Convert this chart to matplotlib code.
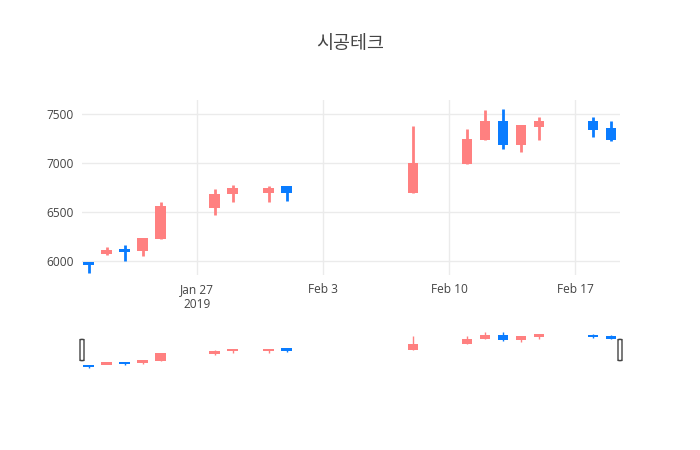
import numpy as np
import matplotlib
matplotlib.use('Agg')
import matplotlib.pyplot as plt
import matplotlib.dates as mdates
from matplotlib.patches import FancyBboxPatch

dates = ['2019-01-21', '2019-01-22', '2019-01-23', '2019-01-24', '2019-01-25',
         '2019-01-28', '2019-01-29', '2019-01-31', '2019-02-01', '2019-02-08',
         '2019-02-11', '2019-02-12', '2019-02-13', '2019-02-14', '2019-02-15',
         '2019-02-18', '2019-02-19']
opens = [5990, 6070, 6120, 6100, 6230, 6540, 6690, 6700, 6770, 6700,
         6990, 7240, 7430, 7190, 7370, 7430, 7355]
highs = [5990, 6150, 6170, 6240, 6600, 6740, 6780, 6770, 6770, 7375,
         7350, 7545, 7555, 7385, 7475, 7475, 7430]
lows = [5885, 6060, 6000, 6050, 6230, 6470, 6600, 6600, 6610, 6700,
        6990, 7240, 7145, 7110, 7240, 7265, 7225]
closes = [5960, 6110, 6100, 6240, 6560, 6690, 6750, 6750, 6700, 7000,
          7250, 7430, 7190, 7385, 7435, 7340, 7235]

tick_dates = ['2019-01-27', '2019-02-03', '2019-02-10', '2019-02-17']
tick_labels = ['Jan 27\n2019', 'Feb 3', 'Feb 10', 'Feb 17']

up_col = '#ff8080'
down_col = '#0a7cff'
txt = '#444444'

x = mdates.datestr2num(dates)
o = np.array(opens, float)
h = np.array(highs, float)
l = np.array(lows, float)
c = np.array(closes, float)
cols = [up_col if cc >= oo else down_col for oo, cc in zip(o, c)]

def candles(ax, wick_lw, min_h):
    ax.vlines(x, l, h, colors=cols, linewidth=wick_lw, zorder=2, clip_on=False)
    mid = (o + c) / 2
    hgt = np.maximum(np.abs(c - o), min_h)
    ax.bar(x, hgt, bottom=mid - hgt / 2, width=0.6, color=cols, linewidth=0,
           zorder=3, clip_on=False)

plt.rcParams['font.family'] = ['Open Sans', 'DejaVu Sans']
fig = plt.figure(figsize=(7, 4.5), dpi=100)

xlo = mdates.datestr2num('2019-01-20') + 0.62
xhi = mdates.datestr2num('2019-02-19') + 0.5

ax = fig.add_axes([82 / 700, 1 - 275 / 450, 538 / 700, 175 / 450])
candles(ax, 2, 28)
ax.set_xlim(xlo, xhi)
ax.set_ylim(5860, 7645)
ax.set_yticks([6000, 6500, 7000, 7500])
ax.set_xticks(mdates.datestr2num(tick_dates))
ax.set_xticklabels(tick_labels)
ax.grid(True, color='#ebebeb', linewidth=1)
ax.set_axisbelow(True)
for s in ax.spines.values():
    s.set_visible(False)
ax.tick_params(length=0, colors=txt, labelsize=8.6, pad=6)

fig.text(0.5, 1 - 44 / 450, '시공테크', ha='center', va='center', fontsize=13.3,
         color=txt, family=['Noto Sans CJK KR', 'DejaVu Sans'])

# range slider
sl = fig.add_axes([82 / 700, 1 - 373 / 450, 538 / 700, 46 / 450])
candles(sl, 1, 110)
sl.set_xlim(xlo, xhi)
sl.set_ylim(5650, 7790)
sl.set_xticks([])
sl.set_yticks([])
for s in sl.spines.values():
    s.set_visible(False)
for gx in (0, 1):
    sl.add_patch(FancyBboxPatch((gx - 2 / 538, 0.27), 4 / 538, 0.46,
                                boxstyle='round,pad=0,rounding_size=0.004',
                                transform=sl.transAxes, clip_on=False,
                                facecolor='white', edgecolor='#444444',
                                linewidth=1, zorder=5))

plt.savefig('out.png')
